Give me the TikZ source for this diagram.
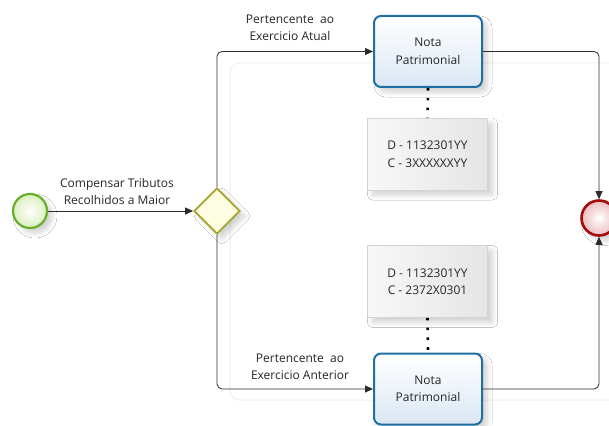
\documentclass[tikz,border=0pt]{standalone}
\usepackage{fontspec}
\setmainfont{Open Sans}
\usetikzlibrary{shapes.geometric,arrows.meta,shadows.blur}
\definecolor{flowc}{HTML}{2B2B2B}
\definecolor{startc}{HTML}{6AAF2A}
\definecolor{startf}{HTML}{F1FCDC}
\definecolor{gatec}{HTML}{A6A42A}
\definecolor{gatef}{HTML}{FDFDE2}
\definecolor{taskc}{HTML}{1F6FA3}
\definecolor{taskf}{HTML}{EEF3FC}
\definecolor{endc}{HTML}{A40A0A}
\definecolor{endf}{HTML}{F9DCDE}
\definecolor{annoc}{HTML}{D4D4D4}
\definecolor{txt}{HTML}{262626}
\tikzset{
  softshadow/.style={blur shadow={shadow xshift=5pt,shadow yshift=-5pt,shadow blur steps=8,shadow blur radius=5pt,shadow opacity=18}},
  startev/.style={circle,draw=startc,line width=2.2pt,inner color=white,outer color=startf!80!startc!90,minimum size=34pt,inner sep=0pt,softshadow},
  endev/.style={circle,draw=endc,line width=2.6pt,inner color=white,outer color=endf!85!endc,minimum size=35pt,inner sep=0pt,softshadow},
  gate/.style={diamond,draw=gatec,line width=1.8pt,fill=gatef,minimum width=46pt,minimum height=46pt,inner sep=0pt,softshadow},
  taskbox/.style={rectangle,rounded corners=7pt,draw=taskc,line width=2pt,top color=white,bottom color=taskf!90!taskc!95,minimum width=108pt,minimum height=71pt,align=center,font=\fontsize{12pt}{17.5pt}\selectfont,text=txt,softshadow},
  annobox/.style={rectangle,draw=annoc,line width=0.6pt,left color=black!3,right color=black!10,minimum width=120pt,minimum height=72pt,align=center,font=\fontsize{12pt}{17.5pt}\selectfont,text=txt,softshadow},
  flow/.style={draw=flowc,line width=0.8pt,rounded corners=5pt,-{Triangle[length=8pt,width=7pt]}},
  assoc/.style={draw=black,line width=2.6pt,dash pattern=on 2.6pt off 7.2pt},
  lbl/.style={align=center,font=\fontsize{12pt}{17pt}\selectfont,text=txt,inner sep=0pt}
}
\begin{document}
\begin{tikzpicture}[x=1pt,y=-1pt]
\useasboundingbox (0,0) rectangle (609,425);
\fill[white] (0,0) rectangle (609,425);
% faint group frame
\draw[black!6,line width=1pt,rounded corners=9pt] (230,63) rectangle (640,400);
% nodes
\node[startev] (start) at (30,211) {};
\node[gate] (gw) at (217,211) {};
\node[taskbox] (t1) at (428,51.5) {Nota\\Patrimonial};
\node[taskbox] (t2) at (428,389) {Nota\\Patrimonial};
\node[annobox] (a1) at (427.5,154) {D - 1132301YY\\C - 3XXXXXXYY};
\node[annobox] (a2) at (427.5,281.5) {D - 1132301YY\\C - 2372X0301};
\node[endev] (end) at (599,218) {};
% labels
\node[lbl] (l0) at (117,191) {Compensar Tributos\\Recolhidos a Maior};
\node[lbl] (l1) at (290,28) {Pertencente~ ao\\Exercicio Atual};
\node[lbl] (l2) at (300,367) {Pertencente~ ao\\Exercicio Anterior};
% connectors
\draw[flow] (start) -- (gw);
\draw[flow] (gw.north) |- (t1.west);
\draw[flow] (gw.south) |- (t2.west);
\draw[flow] (t1.east) -| (end.north);
\draw[flow] (t2.east) -| (end.south);
\draw[assoc] (t1.south) -- (a1.north);
\draw[assoc] (a2.south) -- (t2.north);
\end{tikzpicture}
\end{document}
